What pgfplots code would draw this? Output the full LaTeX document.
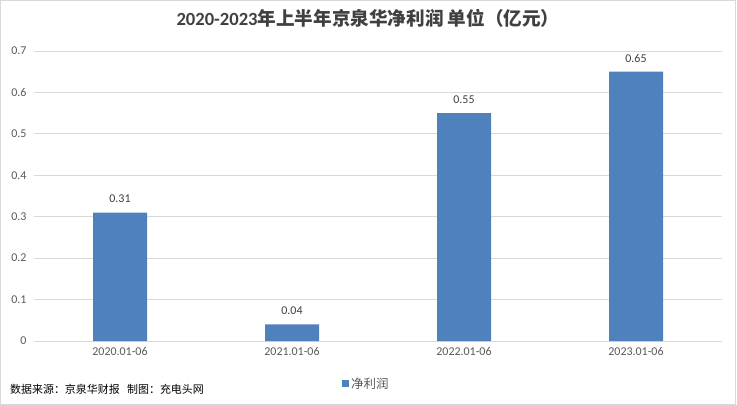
\documentclass[border=0pt]{standalone}
\usepackage{pgfplots}
\pgfplotsset{compat=1.18}
\usepackage{fontspec}
\setmainfont{Carlito}
\newfontfamily\cjk{Noto Sans CJK SC}
\newfontfamily\lat{Carlito}
\definecolor{barblue}{HTML}{4F81BD}
\definecolor{gridgray}{HTML}{D9D9D9}
\definecolor{txtgray}{HTML}{595959}
\definecolor{ttlgray}{HTML}{404040}
\begin{document}
\begin{tikzpicture}
\fill[white] (-34bp,-64bp) rectangle (703bp,341bp);
\draw[gridgray, line width=1bp] (-33.5bp,-63.5bp) rectangle (701.5bp,340.5bp);
\begin{axis}[
  at={(0,0)}, anchor=south west,
  scale only axis, width=688bp, height=290bp,
  xmin=-0.5, xmax=3.5, ymin=0, ymax=0.7,
  xtick=data,
  xticklabels={2020.01-06,2021.01-06,2022.01-06,2023.01-06},
  ytick={0,0.1,...,0.7},
  yticklabels={0,0.1,0.2,0.3,0.4,0.5,0.6,0.7},
  axis line style={draw=none},
  axis x line*=bottom,
  x axis line style={draw=gridgray, line width=1bp},
  major tick length=0pt,
  ymajorgrids, grid style={gridgray, line width=1bp},
  ticklabel style={font=\lat\fontsize{12}{12}\selectfont, text=txtgray},
  yticklabel style={xshift=-4bp},
  xticklabel style={yshift=-3bp},
  ybar, bar width=54bp,
  nodes near coords,
  point meta=explicit symbolic,
  every node near coord/.append style={font=\lat\fontsize{12}{12}\selectfont, text=ttlgray, yshift=6bp},
  legend style={at={(0.483,-0.148)}, anchor=center, draw=none, fill=none,
    font=\cjk\fontsize{12.5}{12.5}\selectfont, text=txtgray, inner sep=0pt},
  legend image code/.code={\fill[barblue] (0bp,-3.5bp) rectangle (7bp,3.5bp);},
  clip=false,
]
\addplot[fill=barblue, draw=none] table[meta=label] {
x y label
0 0.31 0.31
1 0.04 0.04
2 0.55 0.55
3 0.65 0.65
};
\addlegendentry{净利润}
\end{axis}
\node[anchor=center, text=ttlgray] at (334bp,323bp) {\fontsize{18.67}{18.67}\selectfont\bfseries\lat 2020-2023\cjk 年上半年京泉华净利润 单位（亿元）};
\node[anchor=west, text=black, inner sep=0pt] at (-24bp,-48bp) {\cjk\fontsize{11}{11}\selectfont 数据来源：京泉华财报\ \ \ 制图：充电头网};
\pgfresetboundingbox
\path[use as bounding box] (-34bp,-64bp) rectangle (703bp,341bp);
\end{tikzpicture}
\end{document}
